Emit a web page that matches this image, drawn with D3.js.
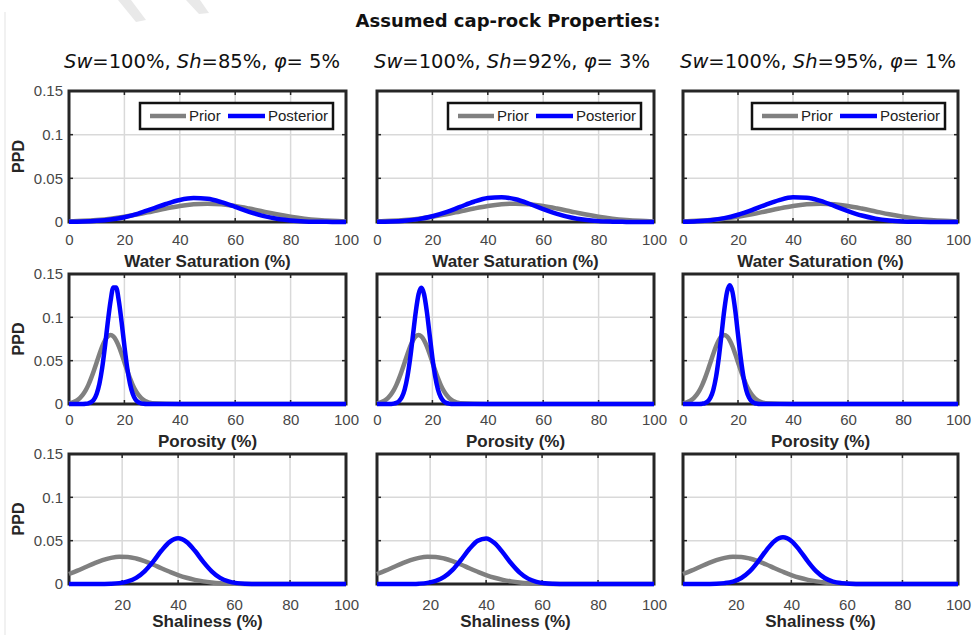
<!DOCTYPE html>
<html>
<head>
<meta charset="utf-8">
<script src="https://cdn.jsdelivr.net/npm/d3@7"></script>
<style>
  body { margin: 0; background: #fff; }
  svg { display: block; }
</style>
</head>
<body>
<svg id="chart" width="972" height="635"></svg>
<script>
// ---- Figure text ----
const figTitle = "Assumed cap-rock Properties:";
const caseSh = ["85%", "92%", "95%"];
const casePhi = ["5%", "3%", "1%"];
const rowLabels = ["Water Saturation (%)", "Porosity (%)", "Shaliness (%)"];
const seriesNames = ["Prior", "Posterior"];

// ---- Tick values ----
const yTicks = [0, 0.05, 0.1, 0.15];
const xTicksFull = [0, 20, 40, 60, 80, 100];
const xTicksShale = [20, 40, 60, 80, 100];

// ---- Water saturation (%) ----
const satX = [0, 5, 10, 15, 20, 25, 30, 35, 40, 45, 50, 55, 60, 65, 70, 75, 80, 85, 90, 95, 100];
const priorSw = [0.0007, 0.0013, 0.0023, 0.0038, 0.0060, 0.0088, 0.0121, 0.0154, 0.0183, 0.0203, 0.0210,
                 0.0203, 0.0183, 0.0154, 0.0121, 0.0088, 0.0060, 0.0038, 0.0023, 0.0013, 0.0007];
const postSwA = [0.0002, 0.0005, 0.0013, 0.0028, 0.0055, 0.0096, 0.0150, 0.0206, 0.0252, 0.0274, 0.0265,
                 0.0227, 0.0173, 0.0117, 0.0070, 0.0037, 0.0018, 0.0007, 0.0003, 0.0001, 0];
const postSwB = [0.0002, 0.0006, 0.0015, 0.0033, 0.0066, 0.0113, 0.0173, 0.0232, 0.0274, 0.0284, 0.0260,
                 0.0209, 0.0148, 0.0093, 0.0051, 0.0025, 0.0010, 0.0004, 0.0001, 0, 0];
const postSwC = [0.0003, 0.0009, 0.0021, 0.0044, 0.0083, 0.0136, 0.0197, 0.0251, 0.0282, 0.0278, 0.0242,
                 0.0185, 0.0125, 0.0074, 0.0039, 0.0018, 0.0007, 0.0003, 0.0001, 0, 0];

// ---- Porosity (%) ----
const poroX = [0, 1, 2, 3, 4, 5, 6, 7, 8, 9, 10, 11, 12, 13, 14, 15, 16, 17, 18, 19, 20,
               21, 22, 23, 24, 25, 26, 27, 28, 29, 30, 40, 60, 80, 100];
const priorPhi = [0.0009, 0.0016, 0.0027, 0.0045, 0.0071, 0.0108, 0.0157, 0.0221, 0.0298, 0.0387, 0.0482,
                  0.0577, 0.0664, 0.0734, 0.0779, 0.0795, 0.0779, 0.0734, 0.0664, 0.0577, 0.0482,
                  0.0387, 0.0298, 0.0221, 0.0157, 0.0108, 0.0071, 0.0045, 0.0027, 0.0016, 0.0009, 0, 0, 0, 0];
const postPhiA = [0, 0, 0, 0, 0, 0, 0.0002, 0.0008, 0.0021, 0.0053, 0.0119,
                  0.0237, 0.0421, 0.0668, 0.0943, 0.1187, 0.1345, 0.1345, 0.1187, 0.0943, 0.0668,
                  0.0421, 0.0237, 0.0119, 0.0053, 0.0021, 0.0008, 0.0002, 0, 0, 0, 0, 0, 0, 0];
const postPhiB = [0, 0, 0, 0, 0, 0.0001, 0.0004, 0.0013, 0.0034, 0.0080, 0.0169,
                  0.0319, 0.0534, 0.0799, 0.1065, 0.1265, 0.1340, 0.1265, 0.1065, 0.0799, 0.0534,
                  0.0319, 0.0169, 0.0080, 0.0034, 0.0013, 0.0004, 0.0001, 0, 0, 0, 0, 0, 0, 0];
const postPhiC = [0, 0, 0, 0, 0, 0, 0.0001, 0.0004, 0.0011, 0.0030, 0.0074,
                  0.0161, 0.0309, 0.0529, 0.0802, 0.1080, 0.1291, 0.1370, 0.1291, 0.1080, 0.0802,
                  0.0529, 0.0309, 0.0161, 0.0074, 0.0030, 0.0011, 0.0004, 0.0001, 0, 0, 0, 0, 0, 0];

// ---- Shaliness (%) ----
const shaleX = [1, 4, 7, 10, 13, 16, 19, 22, 25, 28, 31, 34, 37, 40, 43, 46, 49, 52, 55, 58, 61, 64,
                67, 70, 73, 76, 79, 82, 85, 88, 91, 94, 97, 100];
const priorSh = [0.0115, 0.0154, 0.0196, 0.0238, 0.0275, 0.0301, 0.0314, 0.0312, 0.0294, 0.0263, 0.0225,
                 0.0182, 0.0141, 0.0103, 0.0072, 0.0048, 0.0030, 0.0018, 0.0010, 0.0006, 0.0003, 0.0001,
                 0, 0, 0, 0, 0, 0, 0, 0, 0, 0, 0, 0];
const postShA = [0, 0, 0, 0, 0.0001, 0.0003, 0.0010, 0.0030, 0.0071, 0.0147, 0.0256,
                 0.0383, 0.0486, 0.0527, 0.0486, 0.0383, 0.0256, 0.0147, 0.0071, 0.0030, 0.0010, 0.0003,
                 0.0001, 0, 0, 0, 0, 0, 0, 0, 0, 0, 0, 0];
const postShB = [0, 0, 0, 0, 0.0001, 0.0004, 0.0013, 0.0035, 0.0081, 0.0163, 0.0277,
                 0.0403, 0.0499, 0.0526, 0.0473, 0.0362, 0.0236, 0.0131, 0.0062, 0.0025, 0.0009, 0.0003,
                 0.0001, 0, 0, 0, 0, 0, 0, 0, 0, 0, 0, 0];
const postShC = [0, 0, 0, 0.0001, 0.0003, 0.0010, 0.0028, 0.0069, 0.0145, 0.0258, 0.0389,
                 0.0497, 0.0540, 0.0497, 0.0389, 0.0258, 0.0145, 0.0069, 0.0028, 0.0010, 0.0003, 0.0001,
                 0, 0, 0, 0, 0, 0, 0, 0, 0, 0, 0, 0];

// ---- Layout of the 3x3 grid of axes ----
const colBox = [[69, 346], [377, 654], [683, 958]];
const rowBox = [[91, 222], [274, 404], [454, 584]];
const tickLabelOffset = [23, 21, 26];
const rowLabelOffset = [45, 43, 43];

const rows = [
  { x: satX,   prior: priorSw,  post: [postSwA, postSwB, postSwC],    domain: [0, 100], ticks: xTicksFull },
  { x: poroX,  prior: priorPhi, post: [postPhiA, postPhiB, postPhiC], domain: [0, 100], ticks: xTicksFull },
  { x: shaleX, prior: priorSh,  post: [postShA, postShB, postShC],    domain: [1, 100], ticks: xTicksShale }
];

const priorColor = "#808080";
const postColor = "#0000ff";
const frameColor = "#262626";
const gridColor = "#d9d9d9";
const tickTextColor = "#474747";

const svg = d3.select("#chart");

// faint vertical rule along the left edge of the sheet
svg.append("line")
  .attr("x1", 5).attr("x2", 5).attr("y1", 12).attr("y2", 635)
  .attr("stroke", "#ececec").attr("stroke-width", 1.5);

// faint diagonal marks near the top of the sheet
svg.append("path")
  .attr("d", "M118,0 L131,0 L146,20 L136,22 Z M186,0 L200,0 L209,13 L199,14 Z")
  .attr("fill", "#e9e9e9");

// figure title
svg.append("text")
  .attr("x", 508).attr("y", 27)
  .attr("text-anchor", "middle")
  .attr("font-family", "DejaVu Sans, Verdana, sans-serif")
  .attr("font-weight", "bold")
  .attr("font-size", 18)
  .attr("fill", "#111")
  .text(figTitle);

// column titles
const colCenters = [202, 512, 818];
colCenters.forEach((cx, c) => {
  const t = svg.append("text")
    .attr("x", cx).attr("y", 68)
    .attr("text-anchor", "middle")
    .attr("font-family", "DejaVu Sans, Verdana, sans-serif")
    .attr("font-size", 19.5)
    .attr("fill", "#111");
  t.append("tspan").attr("font-style", "italic").text("Sw");
  t.append("tspan").text("=100%, ");
  t.append("tspan").attr("font-style", "italic").text("Sh");
  t.append("tspan").text("=" + caseSh[c] + ", ");
  t.append("tspan").attr("font-style", "italic").text("φ");
  t.append("tspan").text("= " + casePhi[c]);
});

const fmtY = d => d === 0 ? "0" : String(d);

rows.forEach((row, r) => {
  colBox.forEach((cb, c) => {
    const [x0, x1] = cb;
    const [y0, y1] = rowBox[r];
    const x = d3.scaleLinear().domain(row.domain).range([x0, x1]);
    const y = d3.scaleLinear().domain([0, 0.15]).range([y1, y0]);
    const g = svg.append("g");

    // grid
    g.append("g").selectAll("line.gx")
      .data(row.ticks.filter(t => t > row.domain[0] && t < row.domain[1]))
      .join("line")
      .attr("x1", d => x(d)).attr("x2", d => x(d))
      .attr("y1", y0).attr("y2", y1)
      .attr("stroke", gridColor).attr("stroke-width", 1.5);
    g.append("g").selectAll("line.gy")
      .data(yTicks.filter(t => t > 0 && t < 0.15))
      .join("line")
      .attr("x1", x0).attr("x2", x1)
      .attr("y1", d => y(d)).attr("y2", d => y(d))
      .attr("stroke", gridColor).attr("stroke-width", 1.5);

    // inward tick marks on all four sides
    const tl = 4;
    row.ticks.forEach(t => {
      g.append("line").attr("x1", x(t)).attr("x2", x(t)).attr("y1", y1).attr("y2", y1 - tl)
        .attr("stroke", frameColor).attr("stroke-width", 1.5);
      g.append("line").attr("x1", x(t)).attr("x2", x(t)).attr("y1", y0).attr("y2", y0 + tl)
        .attr("stroke", frameColor).attr("stroke-width", 1.5);
    });
    yTicks.forEach(t => {
      g.append("line").attr("x1", x0).attr("x2", x0 + tl).attr("y1", y(t)).attr("y2", y(t))
        .attr("stroke", frameColor).attr("stroke-width", 1.5);
      g.append("line").attr("x1", x1).attr("x2", x1 - tl).attr("y1", y(t)).attr("y2", y(t))
        .attr("stroke", frameColor).attr("stroke-width", 1.5);
    });

    // frame
    g.append("rect")
      .attr("x", x0).attr("y", y0)
      .attr("width", x1 - x0).attr("height", y1 - y0)
      .attr("fill", "none").attr("stroke", frameColor).attr("stroke-width", 3);

    // curves
    const line = d3.line()
      .x((d, i) => x(row.x[i]))
      .y(d => y(d))
      .curve(d3.curveMonotoneX);
    g.append("path").datum(row.prior)
      .attr("d", line)
      .attr("fill", "none").attr("stroke", priorColor).attr("stroke-width", 4.5);
    g.append("path").datum(row.post[c])
      .attr("d", line)
      .attr("fill", "none").attr("stroke", postColor).attr("stroke-width", 4.5);

    // x tick labels
    const xa = g.append("g")
      .attr("transform", `translate(0,${y1})`)
      .call(d3.axisBottom(x).tickValues(row.ticks).tickSize(0).tickFormat(d3.format("d")));
    xa.select(".domain").remove();
    xa.selectAll("text")
      .attr("y", tickLabelOffset[r]).attr("dy", null)
      .attr("font-family", "Liberation Sans, Arial, sans-serif")
      .attr("font-size", 15)
      .attr("fill", tickTextColor);

    // x axis label
    g.append("text")
      .attr("x", (x0 + x1) / 2).attr("y", y1 + rowLabelOffset[r])
      .attr("text-anchor", "middle")
      .attr("font-family", "Liberation Sans, Arial, sans-serif")
      .attr("font-weight", "bold")
      .attr("font-size", 17)
      .attr("fill", frameColor)
      .text(rowLabels[r]);

    if (c === 0) {
      const ya = g.append("g")
        .attr("transform", `translate(${x0},0)`)
        .call(d3.axisLeft(y).tickValues(yTicks).tickSize(0).tickPadding(6).tickFormat(fmtY));
      ya.select(".domain").remove();
      ya.selectAll("text")
        .attr("font-family", "Liberation Sans, Arial, sans-serif")
        .attr("font-size", 15)
        .attr("fill", tickTextColor);

      g.append("text")
        .attr("transform", `translate(24,${(y0 + y1) / 2}) rotate(-90)`)
        .attr("text-anchor", "middle")
        .attr("font-family", "Liberation Sans, Arial, sans-serif")
        .attr("font-weight", "bold")
        .attr("font-size", 16)
        .attr("fill", frameColor)
        .text("PPD");
    }

    // legend in the top row
    if (r === 0) {
      const lx = x1 - 206, ly = y0 + 12, lw = 193, lh = 26;
      const lg = g.append("g");
      lg.append("rect")
        .attr("x", lx).attr("y", ly).attr("width", lw).attr("height", lh)
        .attr("fill", "#fff").attr("stroke", "#111").attr("stroke-width", 2.5);
      const cy = ly + lh / 2;
      const items = [
        { name: seriesNames[0], color: priorColor, lx0: lx + 10, lx1: lx + 46, tx: lx + 49 },
        { name: seriesNames[1], color: postColor, lx0: lx + 88, lx1: lx + 125, tx: lx + 128 }
      ];
      items.forEach(it => {
        lg.append("line")
          .attr("x1", it.lx0).attr("x2", it.lx1).attr("y1", cy).attr("y2", cy)
          .attr("stroke", it.color).attr("stroke-width", 4.5);
        lg.append("text")
          .attr("x", it.tx).attr("y", cy + 5)
          .attr("font-family", "Liberation Sans, Arial, sans-serif")
          .attr("font-size", 15)
          .attr("fill", "#222")
          .text(it.name);
      });
    }
  });
});
</script>
</body>
</html>
